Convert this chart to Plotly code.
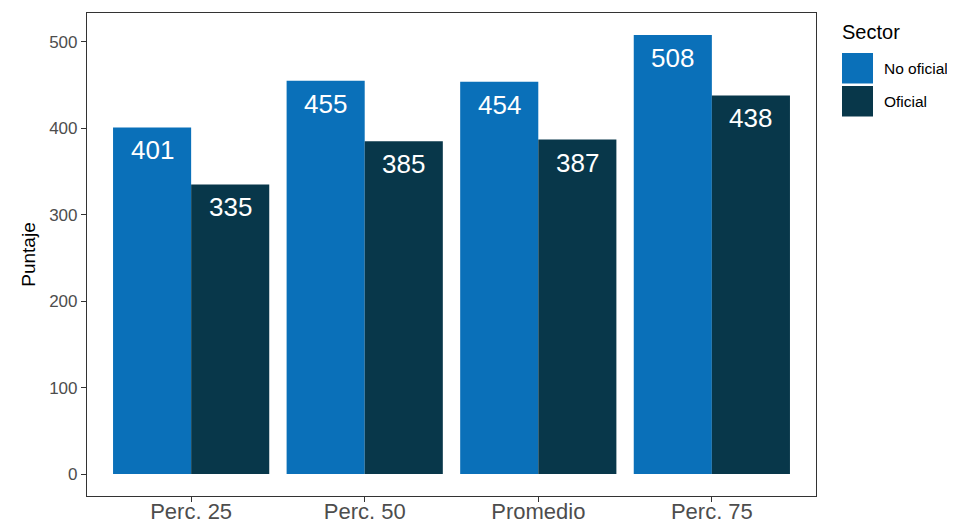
import plotly.graph_objects as go

categories = ["Perc. 25", "Perc. 50", "Promedio", "Perc. 75"]
no_oficial = [401, 455, 454, 508]
oficial = [335, 385, 387, 438]
series_names = ["No oficial", "Oficial"]
colors = ["#0A70B9", "#08374A"]
y_ticks = [0, 100, 200, 300, 400, 500]

FONT = "Liberation Sans, Arial, Helvetica, sans-serif"
# page body has an 8px margin; size the figure so it ends at the window edge
OFF = 8
W, H = 955 - OFF, 522 - OFF
ML, MT = 87 - OFF, 13 - OFF
MR = 955 - 816
MB = 522 - 496
PW, PH = W - ML - MR, H - MT - MB

pos = list(range(1, len(categories) + 1))
series = [no_oficial, oficial]
offsets = [-0.225, 0.225]

fig = go.Figure()
for name, vals, col in zip(series_names, series, colors):
    fig.add_trace(go.Bar(x=pos, y=vals, name=name, marker=dict(color=col, line=dict(width=0)),
                         showlegend=False))

ymax = max(max(s) for s in series)
pad = 0.05 * ymax

annotations = []
for vals, off in zip(series, offsets):
    for p, v in zip(pos, vals):
        annotations.append(dict(x=p + off, y=v, xref="x", yref="y", text=str(v), showarrow=False,
                                yanchor="middle", yshift=-23,
                                font=dict(family=FONT, size=26, color="white")))

def px_to_paper_x(px):
    return (px - OFF - ML) / PW

def px_to_paper_y(py):
    return (H + OFF - MB - py) / PH

# custom legend (positions in window pixels)
annotations.append(dict(x=px_to_paper_x(840), y=px_to_paper_y(32), xref="paper", yref="paper",
                        text="Sector", showarrow=False, xanchor="left", yanchor="middle",
                        font=dict(family=FONT, size=20, color="black")))
shapes = []
key_tops = [53, 86]
for name, col, kt in zip(series_names, colors, key_tops):
    shapes.append(dict(type="rect", xref="paper", yref="paper",
                       x0=px_to_paper_x(842), x1=px_to_paper_x(873),
                       y0=px_to_paper_y(kt + 30.5), y1=px_to_paper_y(kt),
                       fillcolor=col, line=dict(width=0)))
    annotations.append(dict(x=px_to_paper_x(882), y=px_to_paper_y(kt + 15), xref="paper", yref="paper",
                            text=name, showarrow=False, xanchor="left", yanchor="middle",
                            font=dict(family=FONT, size=15.5, color="black")))

fig.update_layout(
    width=W, height=H,
    margin=dict(l=ML, r=MR, t=MT, b=MB, autoexpand=False),
    plot_bgcolor="white", paper_bgcolor="white",
    barmode="group", bargap=0.1, bargroupgap=0,
    annotations=annotations, shapes=shapes,
    showlegend=False,
    xaxis=dict(range=[0.4, len(categories) + 0.6], tickvals=pos, ticktext=categories,
               automargin=False, ticklabelstandoff=-10,
               showgrid=False, zeroline=False, showline=True, mirror=True, linecolor="#333333",
               linewidth=1.2, ticks="outside", ticklen=5, tickcolor="#333333", tickwidth=1.2,
               tickfont=dict(family=FONT, size=22, color="#4D4D4D")),
    yaxis=dict(range=[-pad, ymax + pad], tickvals=y_ticks, automargin=False,
               showgrid=False, zeroline=False, showline=True, mirror=True, linecolor="#333333",
               linewidth=1.2, ticks="outside", ticklen=5, tickcolor="#333333", tickwidth=1.2,
               tickfont=dict(family=FONT, size=17, color="#4D4D4D"),
               title=dict(text="Puntaje", font=dict(family=FONT, size=19, color="black"), standoff=8)),
)

fig.write_html("out.html")
